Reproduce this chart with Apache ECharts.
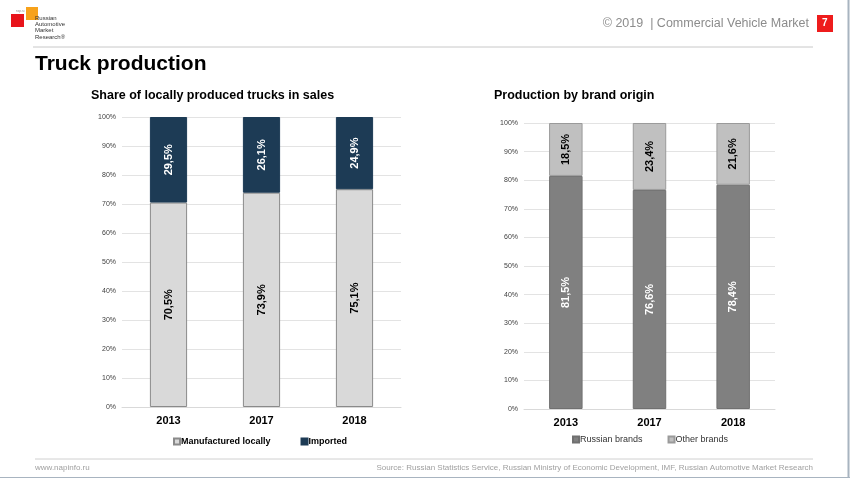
<!DOCTYPE html>
<html><head><meta charset="utf-8">
<script src="https://cdn.jsdelivr.net/npm/echarts@6/dist/echarts.min.js"></script>
<style>html,body{margin:0;padding:0;background:#fff}#c{width:850px;height:478px}</style>
</head><body><div id="c"></div>
<script>
const years = ['2013', '2017', '2018'];
const yTicks = ['0%','10%','20%','30%','40%','50%','60%','70%','80%','90%','100%'];
const localShare = [70.5, 73.9, 75.1];
const importedShare = [29.5, 26.1, 24.9];
const russianBrands = [81.5, 76.6, 78.4];
const otherBrands = [18.5, 23.4, 21.6];

const F = 'Liberation Sans, Arial, sans-serif';
const fmt = p => String(p.value.toFixed(1)).replace('.', ',') + '%';
const lbl = (color) => ({show: true, rotate: 90, position: 'inside', color: color, fontWeight: 'bold', fontSize: 11, fontFamily: F, formatter: fmt});

const chart = echarts.init(document.getElementById('c'));
const yAxisBase = {
  type: 'value', min: 0, max: 100, interval: 10,
  axisLabel: {fontSize: 7, color: '#404040', fontFamily: F, margin: 6, formatter: v => yTicks[Math.round(v / 10)]},
  splitLine: {lineStyle: {color: '#e3e3e3'}}, axisLine: {show: false}, axisTick: {show: false}
};
const xAxisBase = {
  type: 'category', data: years,
  axisLine: {lineStyle: {color: '#d9d9d9'}}, axisTick: {show: false},
  axisLabel: {fontSize: 11, fontWeight: 'bold', color: '#000', fontFamily: F, margin: 8}
};
chart.setOption({
  animation: false,
  title: [
    {text: 'Truck production', left: 35, top: 54, padding: 0, textStyle: {fontSize: 21, fontWeight: 'bold', color: '#000', fontFamily: F}},
    {text: 'Share of locally produced trucks in sales', left: 91, top: 89, padding: 0, textStyle: {fontSize: 12.5, fontWeight: 'bold', color: '#000', fontFamily: F}},
    {text: 'Production by brand origin', left: 494, top: 89, padding: 0, textStyle: {fontSize: 12.5, fontWeight: 'bold', color: '#000', fontFamily: F}}
  ],
  legend: [
    {data: ['Manufactured locally', 'Imported'], left: 173, top: 437, padding: 0, icon: 'rect', itemWidth: 6, itemHeight: 6, itemGap: 30,
     textStyle: {fontSize: 9, fontWeight: 'bold', color: '#000', fontFamily: F, padding: [0,0,0,-4]}},
    {data: ['Russian brands', 'Other brands'], left: 572, top: 435, padding: 0, icon: 'rect', itemWidth: 6, itemHeight: 6, itemGap: 25,
     textStyle: {fontSize: 9, color: '#333', fontFamily: F, padding: [0,0,0,-4]}}
  ],
  grid: [
    {left: 122, top: 117, width: 279, height: 290},
    {left: 524, top: 123, width: 251, height: 286}
  ],
  xAxis: [Object.assign({gridIndex: 0}, xAxisBase), Object.assign({gridIndex: 1}, xAxisBase)],
  yAxis: [Object.assign({gridIndex: 0}, yAxisBase), Object.assign({gridIndex: 1}, yAxisBase)],
  series: [
    {name: 'Manufactured locally', type: 'bar', stack: 'a', xAxisIndex: 0, yAxisIndex: 0, data: localShare, barWidth: '40%',
     itemStyle: {color: '#d9d9d9', borderColor: '#8a8a8a', borderWidth: 1}, label: lbl('#000')},
    {name: 'Imported', type: 'bar', stack: 'a', xAxisIndex: 0, yAxisIndex: 0, data: importedShare, barWidth: '40%',
     itemStyle: {color: '#1d3b55', borderColor: '#1d3b55', borderWidth: 1}, label: lbl('#fff')},
    {name: 'Russian brands', type: 'bar', stack: 'b', xAxisIndex: 1, yAxisIndex: 1, data: russianBrands, barWidth: '40%',
     itemStyle: {color: '#808080', borderColor: '#707070', borderWidth: 1}, label: lbl('#fff')},
    {name: 'Other brands', type: 'bar', stack: 'b', xAxisIndex: 1, yAxisIndex: 1, data: otherBrands, barWidth: '40%',
     itemStyle: {color: '#c0c0c0', borderColor: '#9a9a9a', borderWidth: 1}, label: lbl('#000')}
  ],
  graphic: [
    {type: 'rect', shape: {x: 11, y: 14, width: 13, height: 13}, style: {fill: '#e8141b'}},
    {type: 'rect', shape: {x: 26, y: 7, width: 12, height: 13}, style: {fill: '#f7a21b'}},
    {type: 'text', left: 16, top: 10, style: {text: 'nsp.ru', fontSize: 3, fill: '#888', fontFamily: F}},
    {type: 'text', left: 35, top: 15, style: {text: 'Russian\nAutomotive\nMarket\nResearch\u00ae', fontSize: 6, lineHeight: 6.3, fill: '#333', fontFamily: F}},
    {type: 'line', shape: {x1: 33, y1: 47, x2: 813, y2: 47}, style: {stroke: '#c8c8c8', lineWidth: 1}},
    {type: 'text', right: 41, top: 17, style: {text: '\u00a9 2019  | Commercial Vehicle Market', fontSize: 12.5, fill: '#8c8c8c', fontFamily: F}},
    {type: 'rect', shape: {x: 817, y: 15, width: 16, height: 17}, style: {fill: '#ee1c1c'}},
    {type: 'text', left: 822, top: 18, style: {text: '7', fontSize: 10, fontWeight: 'bold', fill: '#fff', fontFamily: F}},
    {type: 'line', shape: {x1: 35, y1: 459, x2: 813, y2: 459}, style: {stroke: '#d0d0d0', lineWidth: 1}},
    {type: 'text', left: 35, top: 464, style: {text: 'www.napinfo.ru', fontSize: 8, fill: '#a0a0a0', fontFamily: F}},
    {type: 'text', right: 37, top: 464, style: {text: 'Source: Russian Statistics Service, Russian Ministry of Economic Development, IMF, Russian Automotive Market Research', fontSize: 8, fill: '#a0a0a0', fontFamily: F}},
    {type: 'line', shape: {x1: 848.5, y1: 0, x2: 848.5, y2: 478}, style: {stroke: '#a8b4c0', lineWidth: 2}},
    {type: 'line', shape: {x1: 0, y1: 477.5, x2: 850, y2: 477.5}, style: {stroke: '#a8b4c0', lineWidth: 1}}
  ]
});
</script></body></html>
